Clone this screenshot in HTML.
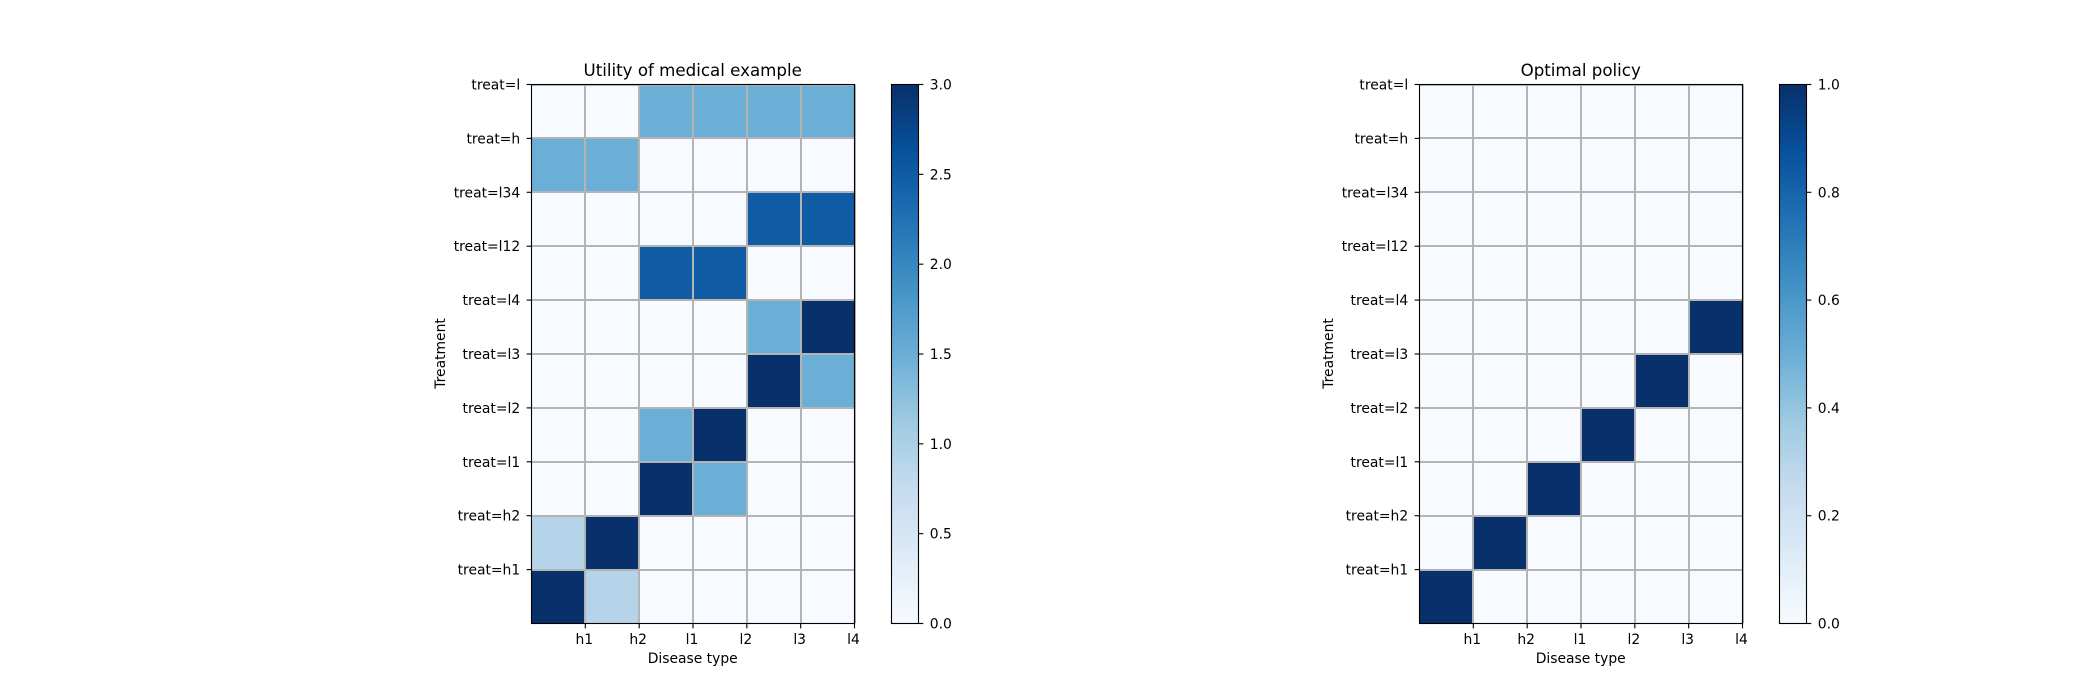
<!DOCTYPE html>
<html>
<head>
<meta charset="utf-8">
<title>Utility and optimal policy heatmaps</title>
<style>
html,body{margin:0;padding:0;background:#fff;}
svg{display:block;}
text{font-family:"DejaVu Sans","Liberation Sans",sans-serif;fill:#000;}
</style>
</head>
<body>
<svg id="fig" xmlns="http://www.w3.org/2000/svg" width="2100" height="700" viewBox="0 0 2100 700">
  <defs>
    <linearGradient id="blues" x1="0" y1="1" x2="0" y2="0">
      <stop offset="0" stop-color="#f7fbff"/>
      <stop offset="0.125" stop-color="#deebf7"/>
      <stop offset="0.25" stop-color="#c6dbef"/>
      <stop offset="0.375" stop-color="#9ecae1"/>
      <stop offset="0.5" stop-color="#6baed6"/>
      <stop offset="0.625" stop-color="#4292c6"/>
      <stop offset="0.75" stop-color="#2171b5"/>
      <stop offset="0.875" stop-color="#08519c"/>
      <stop offset="1" stop-color="#08306b"/>
    </linearGradient>
  </defs>
  <rect x="0" y="0" width="2100" height="700" fill="#ffffff"/>
  <g id="panel-left">
    <text x="692.7" y="76" font-size="16.67" text-anchor="middle">Utility of medical example</text>
    <text x="692.7" y="663" font-size="13.89" text-anchor="middle">Disease type</text>
    <text transform="translate(445 353.5) rotate(-90)" font-size="13.89" text-anchor="middle">Treatment</text>
  </g>
  <g id="panel-right">
    <text x="1580.7" y="76" font-size="16.67" text-anchor="middle">Optimal policy</text>
    <text x="1580.7" y="663" font-size="13.89" text-anchor="middle">Disease type</text>
    <text transform="translate(1333 353.5) rotate(-90)" font-size="13.89" text-anchor="middle">Treatment</text>
  </g>
</svg>
<script>
const diseaseLabels = ["h1", "h2", "l1", "l2", "l3", "l4"];
const treatmentLabels = ["treat=h1", "treat=h2", "treat=l1", "treat=l2", "treat=l3", "treat=l4", "treat=l12", "treat=l34", "treat=h", "treat=l"];
const utilityValues = [
  [3, 0.9, 0, 0, 0, 0],
  [0.9, 3, 0, 0, 0, 0],
  [0, 0, 3, 1.5, 0, 0],
  [0, 0, 1.5, 3, 0, 0],
  [0, 0, 0, 0, 3, 1.5],
  [0, 0, 0, 0, 1.5, 3],
  [0, 0, 2.5, 2.5, 0, 0],
  [0, 0, 0, 0, 2.5, 2.5],
  [1.5, 1.5, 0, 0, 0, 0],
  [0, 0, 1.5, 1.5, 1.5, 1.5]
];
const policyValues = [
  [1, 0, 0, 0, 0, 0],
  [0, 1, 0, 0, 0, 0],
  [0, 0, 1, 0, 0, 0],
  [0, 0, 0, 1, 0, 0],
  [0, 0, 0, 0, 1, 0],
  [0, 0, 0, 0, 0, 1],
  [0, 0, 0, 0, 0, 0],
  [0, 0, 0, 0, 0, 0],
  [0, 0, 0, 0, 0, 0],
  [0, 0, 0, 0, 0, 0]
];
const utilityColorbarTicks = [0, 0.5, 1, 1.5, 2, 2.5, 3];
const policyColorbarTicks = [0, 0.2, 0.4, 0.6, 0.8, 1];
const bluesAnchors = ["#f7fbff", "#deebf7", "#c6dbef", "#9ecae1", "#6baed6", "#4292c6", "#2171b5", "#08519c", "#08306b"];

const SVG_NS = "http://www.w3.org/2000/svg";
const TICK = 4.86;
const LINE = 1.11;
const TOP = 84.5;
const BOTTOM = 623.5;
const GRID_COLOR = "#b4b4b4";
const GRID_WIDTH = 2;

function blues(t) {
  const p = Math.max(0, Math.min(1, t)) * (bluesAnchors.length - 1);
  const i = Math.min(Math.floor(p), bluesAnchors.length - 2);
  const f = p - i;
  const a = bluesAnchors[i], b = bluesAnchors[i + 1];
  const out = [1, 3, 5].map(function (k) {
    const c0 = parseInt(a.substr(k, 2), 16);
    const c1 = parseInt(b.substr(k, 2), 16);
    return Math.round(c0 + (c1 - c0) * f);
  });
  return "rgb(" + out.join(",") + ")";
}

function make(tag, attrs, parent, txt) {
  const el = document.createElementNS(SVG_NS, tag);
  Object.keys(attrs).forEach(function (k) { el.setAttribute(k, attrs[k]); });
  if (txt !== undefined) el.textContent = txt;
  parent.appendChild(el);
  return el;
}

function drawPanel(parent, prefix, values, vmax, cbTicks, axLeft, axRight, cbLeft, cbRight) {
  const nRows = values.length;
  const nCols = values[0].length;
  const xScale = function (v) { return axLeft + (axRight - axLeft) * v / nCols; };
  const yScale = function (v) { return BOTTOM - (BOTTOM - TOP) * v / nRows; };
  const cbScale = function (v) { return BOTTOM - (BOTTOM - TOP) * v / vmax; };

  values.forEach(function (row, r) {
    row.forEach(function (val, c) {
      const cell = make("rect", {
        x: xScale(c), y: yScale(r + 1),
        width: xScale(c + 1) - xScale(c), height: yScale(r) - yScale(r + 1),
        fill: blues(val / vmax), "shape-rendering": "crispEdges"
      }, parent);
      
      
    });
  });

  diseaseLabels.forEach(function (label, i) {
    const x = Math.round(xScale(i + 1));
    const grid = make("line", { x1: x, x2: x, y1: TOP, y2: BOTTOM, stroke: GRID_COLOR, "stroke-width": GRID_WIDTH }, parent);
    
    
  });
  treatmentLabels.forEach(function (label, i) {
    const y = Math.round(yScale(i + 1));
    const grid = make("line", { x1: axLeft, x2: axRight, y1: y, y2: y, stroke: GRID_COLOR, "stroke-width": GRID_WIDTH }, parent);
    
    
  });

  const frame = make("rect", { x: axLeft, y: TOP, width: axRight - axLeft, height: BOTTOM - TOP, fill: "none", stroke: "#000", "stroke-width": LINE }, parent);
  
  

  diseaseLabels.forEach(function (label, i) {
    const x = xScale(i + 1);
    const tick = make("line", { x1: x, x2: x, y1: BOTTOM, y2: BOTTOM + TICK, stroke: "#000", "stroke-width": LINE }, parent);
    
    
    const text = make("text", { x: x - 1, y: 644, "font-size": 13.89, "text-anchor": "middle" }, parent, label);
    
    
  });
  treatmentLabels.forEach(function (label, i) {
    const y = yScale(i + 1);
    const tick = make("line", { x1: axLeft - TICK, x2: axLeft, y1: y, y2: y, stroke: "#000", "stroke-width": LINE }, parent);
    
    
    const text = make("text", { x: axLeft - 11.3, y: y + 5, "font-size": 13.89, "text-anchor": "end" }, parent, label);
    
    
  });

  const bar = make("rect", { x: cbLeft, y: TOP, width: cbRight - cbLeft, height: BOTTOM - TOP, fill: "url(#blues)", stroke: "#000", "stroke-width": LINE }, parent);
  
  
  cbTicks.forEach(function (v) {
    const y = cbScale(v);
    const tick = make("line", { x1: cbRight, x2: cbRight + TICK, y1: y, y2: y, stroke: "#000", "stroke-width": LINE }, parent);
    
    
    const text = make("text", { x: cbRight + 11.3, y: y + 5, "font-size": 13.89 }, parent, v.toFixed(1));
    
    
  });
}

drawPanel(document.getElementById("panel-left"), "utility", utilityValues, 3, utilityColorbarTicks, 531.5, 854.5, 891.5, 918.5);
drawPanel(document.getElementById("panel-right"), "policy", policyValues, 1, policyColorbarTicks, 1419.5, 1742.5, 1779.5, 1806.5);
</script>
</body>
</html>
